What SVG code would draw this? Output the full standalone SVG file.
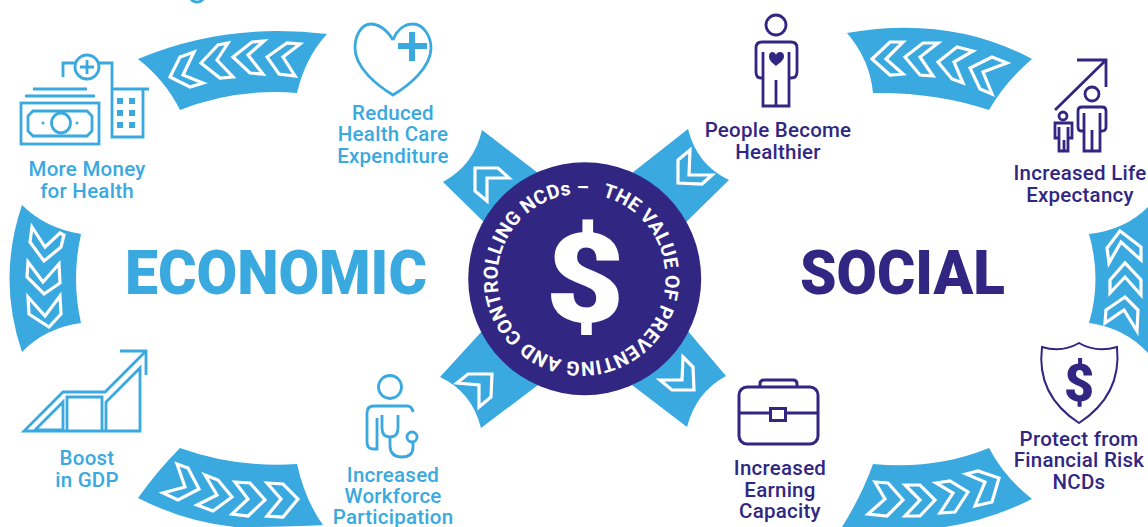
<svg xmlns="http://www.w3.org/2000/svg" xmlns:xlink="http://www.w3.org/1999/xlink" width="1148" height="527" viewBox="0 0 1148 527">
<style>
text{font-family:"Roboto","Liberation Sans",sans-serif}
.lb{font-size:20.5px;text-anchor:middle;letter-spacing:.25px;font-weight:500}
.b{fill:#39a9e0}.d{fill:#312783}
.band{fill:#39a9e0}
.chev{fill:none;stroke:#fff;stroke-width:3.200;stroke-linejoin:miter}
.ib{fill:none;stroke:#39a9e0;stroke-width:2.800}
.id{fill:none;stroke:#312783;stroke-width:2.800}
.head{font-size:62px;font-weight:900}
</style>
<rect width="1148" height="527" fill="#fff"/>
<g id="connectors">
<path class="band" d="M138 59Q225 22 327 34Q305 58 297 93Q235 88 180 110Q165 80 138 59Z"/>
<path class="band" d="M847 33Q950 15 1032 59Q1005 82 989 110Q935 92 873 93Q870 60 847 33Z"/>
<path class="band" d="M22 205Q-3 279 22 352Q45 328 81 323Q71 279 81 234Q45 228 22 205Z"/>
<path class="band" d="M1089 234Q1125 230 1148 207V353Q1125 328 1089 323Q1102 279 1089 234Z"/>
<path class="band" d="M138 498Q158 470 180 448Q235 468 297 464Q305 500 323 525Q290 527 235 527Q185 522 138 498Z"/>
<path class="band" d="M873 464Q935 470 989 448Q1005 478 1032 499Q990 520 945 527H842Q862 495 873 464Z"/>
<path class="band" d="M482 130Q474 165 443 182L490 228L538 173Z"/>
<path class="band" d="M688 129Q697 165 729 180L680 228L632 173Z"/>
<path class="band" d="M440 377Q472 392 481 428L538 385L483 330Z"/>
<path class="band" d="M726 376Q696 392 687 427L632 385L687 330Z"/>
<g class="chev">
<polygon points="267,57 287,43 300,44 283,57 295,76 279,74"/>
<polygon points="233,57 252,42 264,41 248,55 263,74 250,73"/>
<polygon points="201,63 218,45 228,43 217,60 233,77 220,78"/>
<polygon points="170,77 180,57 194,52 183,75 203,83 190,87"/>
<polygon points="872,59 890,42 903,42 886,59 903,74 890,75"/>
<polygon points="905,57 923,43 938,43 920,57 933,76 920,75"/>
<polygon points="938,62 957,47 973,51 954,62 963,83 952,79"/>
<polygon points="970,68 992,57 1007,63 983,72 992,94 980,89"/>
<polygon points="177,464 188,468 199,489 178,500 163,493 185,487"/>
<polygon points="205,475 218,480 232,497 213,511 197,505 217,495"/>
<polygon points="235,482 250,483 265,500 248,516 232,514 248,499"/>
<polygon points="267,483 283,484 298,499 283,517 267,516 281,499"/>
<polygon points="875,482 888,483 903,500 887,516 868,514 885,499"/>
<polygon points="905,485 920,485 935,500 920,516 905,516 920,500"/>
<polygon points="936,483 950,481 968,492 955,512 940,513 953,493"/>
<polygon points="966,474 978,471 999,478 992,502 975,506 985,482"/>
<polygon points="32,227 45,247 60,233 64,235 61,247 44,261 30,242"/>
<polygon points="28,262 43,282 59,264 60,283 44,294 27,277"/>
<polygon points="28,297 45,316 60,296 61,314 49,327 29,314"/>
<polygon points="1107,248 1120,231 1141,247 1141,260 1121,242 1109,263"/>
<polygon points="1110,280 1125,263 1141,280 1141,295 1125,277 1110,293"/>
<polygon points="1106,310 1125,297 1138,310 1137,331 1124,310 1105,323"/>
<polygon points="475,168 498,168 509,178 487,178 487,201 475,191"/>
<polygon points="690,150 678,160 678,183 702,184 712,175 689,175"/>
<polygon points="457,383 468,374 492,374 491,397 479,407 479,385"/>
<polygon points="683,357 693,367 694,390 672,390 660,380 682,380"/>
</g>
</g>
<circle cx="197" cy="-6" r="8" class="ib"/>
<g id="hub">
<circle cx="584.7" cy="278.7" r="116.5" fill="#312783"/>
<path id="ringtext" fill="none" d="M602 196.500A84 84 0 1 1 601.600 196.400"/>
<text font-size="19.5" font-weight="700" fill="#fff" letter-spacing=".2"><textPath href="#ringtext" xlink:href="#ringtext">THE VALUE OF PREVENTING AND CONTROLLING NCDs –</textPath></text>
<text transform="translate(585 322) scale(1.1 1)" font-size="124" font-weight="900" fill="#fff" text-anchor="middle">$</text>
</g>
<text class="head b" x="125" y="294" textLength="302" lengthAdjust="spacingAndGlyphs">ECONOMIC</text>
<text class="head d" x="800" y="294" textLength="205" lengthAdjust="spacingAndGlyphs">SOCIAL</text>
<g id="more-money">
<g class="ib">
<rect x="21" y="103" width="78" height="41"/>
<path d="M33 111H87L92 116V131L87 136H33L28 131V116Z"/>
<ellipse cx="61" cy="123" rx="9.500" ry="10"/>
<path d="M25 96H95M33 89H87"/>
<circle cx="87" cy="67" r="12"/><path d="M80 67H94M87 60V74"/>
<path d="M63 77V63H75M99 63H112V137H143V89M112 89H149"/>
</g>
<g class="b"><circle cx="43" cy="123" r="1.500"/><circle cx="77" cy="123" r="1.500"/>
<rect x="117" y="98" width="6" height="6"/><rect x="129" y="98" width="6" height="6"/><rect x="117" y="110" width="6" height="6"/><rect x="129" y="110" width="6" height="6"/><rect x="117" y="122" width="6" height="6"/><rect x="129" y="122" width="6" height="6"/></g>
<text class="lb b"><tspan x="87" y="176">More Money</tspan><tspan x="87" y="198">for Health</tspan></text>
</g>
<g id="reduced-cost">
<path class="ib" d="M393 40C386 28 377 24 371 24C361 24 355 36 355 48C355 68 378 86 393 95C408 86 431 68 431 48C431 36 423 24 413 24C407 24 398 27 393 40"/>
<path class="b" d="M409 32H415V43H427V49H415V61H409V49H398V43H409Z"/>
<text class="lb b"><tspan x="393" y="120">Reduced</tspan><tspan x="393" y="141">Health Care</tspan><tspan x="393" y="163">Expenditure</tspan></text>
</g>
<g id="boost-gdp">
<path class="ib" d="M120 351H146V375M145 352L105 392H63L24 431H140V368L106 402V431M67 397H102V431H67ZM35 430L63 402V430Z"/>
<text class="lb b"><tspan x="87" y="465">Boost</tspan><tspan x="87" y="487">in GDP</tspan></text>
</g>
<g id="workforce">
<g class="ib"><circle cx="390" cy="387" r="11.500"/>
<path d="M413 412Q412 406 407 406H374Q367 406 367 413V442Q367 449 373 449H377V418"/>
<path d="M382 415V428Q382 437 390 437Q398 437 398 428V415M390 437V447Q391 457 402 457Q413 457 413 447V441"/><circle cx="412" cy="437" r="5"/></g>
<text class="lb b"><tspan x="393" y="482">Increased</tspan><tspan x="393" y="503">Workforce</tspan><tspan x="393" y="524">Participation</tspan></text>
</g>
<g id="healthier">
<g class="id"><circle cx="776" cy="25" r="10"/>
<path d="M763 78H761Q756 78 756 72V48Q756 42 762 42H791Q797 42 797 48V72Q797 78 791 78H789M763 52V106H789V52M776 80V106"/></g>
<path class="d" d="M776 66C771 62 769 60 769 56C769 51 775 51 776 55C777 51 784 51 784 56C784 60 781 62 776 66Z"/>
<text class="lb d"><tspan x="778" y="137">People Become</tspan><tspan x="778" y="159">Healthier</tspan></text>
</g>
<g id="life-expectancy">
<g class="id"><path d="M1077 60H1106V87M1106 60L1055 110"/>
<circle cx="1092" cy="94" r="7"/><path d="M1084 131H1081Q1078 131 1078 127V111Q1078 107 1082 107H1102Q1106 107 1106 111V127Q1106 131 1102 131H1100M1084 113V151H1100V113M1092 130V151"/>
<circle cx="1063" cy="116" r="4"/><path d="M1059 138H1055V123H1072V138H1068M1059 127V151H1068V127M1064 140V151"/></g>
<text class="lb d"><tspan x="1080" y="180">Increased Life</tspan><tspan x="1080" y="202">Expectancy</tspan></text>
</g>
<g id="financial-risk">
<path class="id" style="stroke-width:2" d="M1042 347Q1062 353 1079 343Q1096 353 1117 347Q1122 395 1079 423Q1036 395 1042 347Z"/>
<text class="d" x="1079" y="401" font-size="52" font-weight="900" text-anchor="middle">$</text>
<text class="lb d"><tspan x="1079" y="446">Protect from</tspan><tspan x="1079" y="467">Financial Risk</tspan><tspan x="1079" y="489">NCDs</tspan></text>
</g>
<g id="earning">
<g class="id" style="stroke-width:3"><rect x="739" y="387" width="79" height="57" rx="8"/><path d="M760 387V384Q760 380 764 380H793Q797 380 797 384V387M739 413H770M786 413H818"/><rect x="770.500" y="408.500" width="15" height="12"/></g>
<text class="lb d"><tspan x="780" y="475">Increased</tspan><tspan x="780" y="497">Earning</tspan><tspan x="780" y="518">Capacity</tspan></text>
</g>
</svg>
